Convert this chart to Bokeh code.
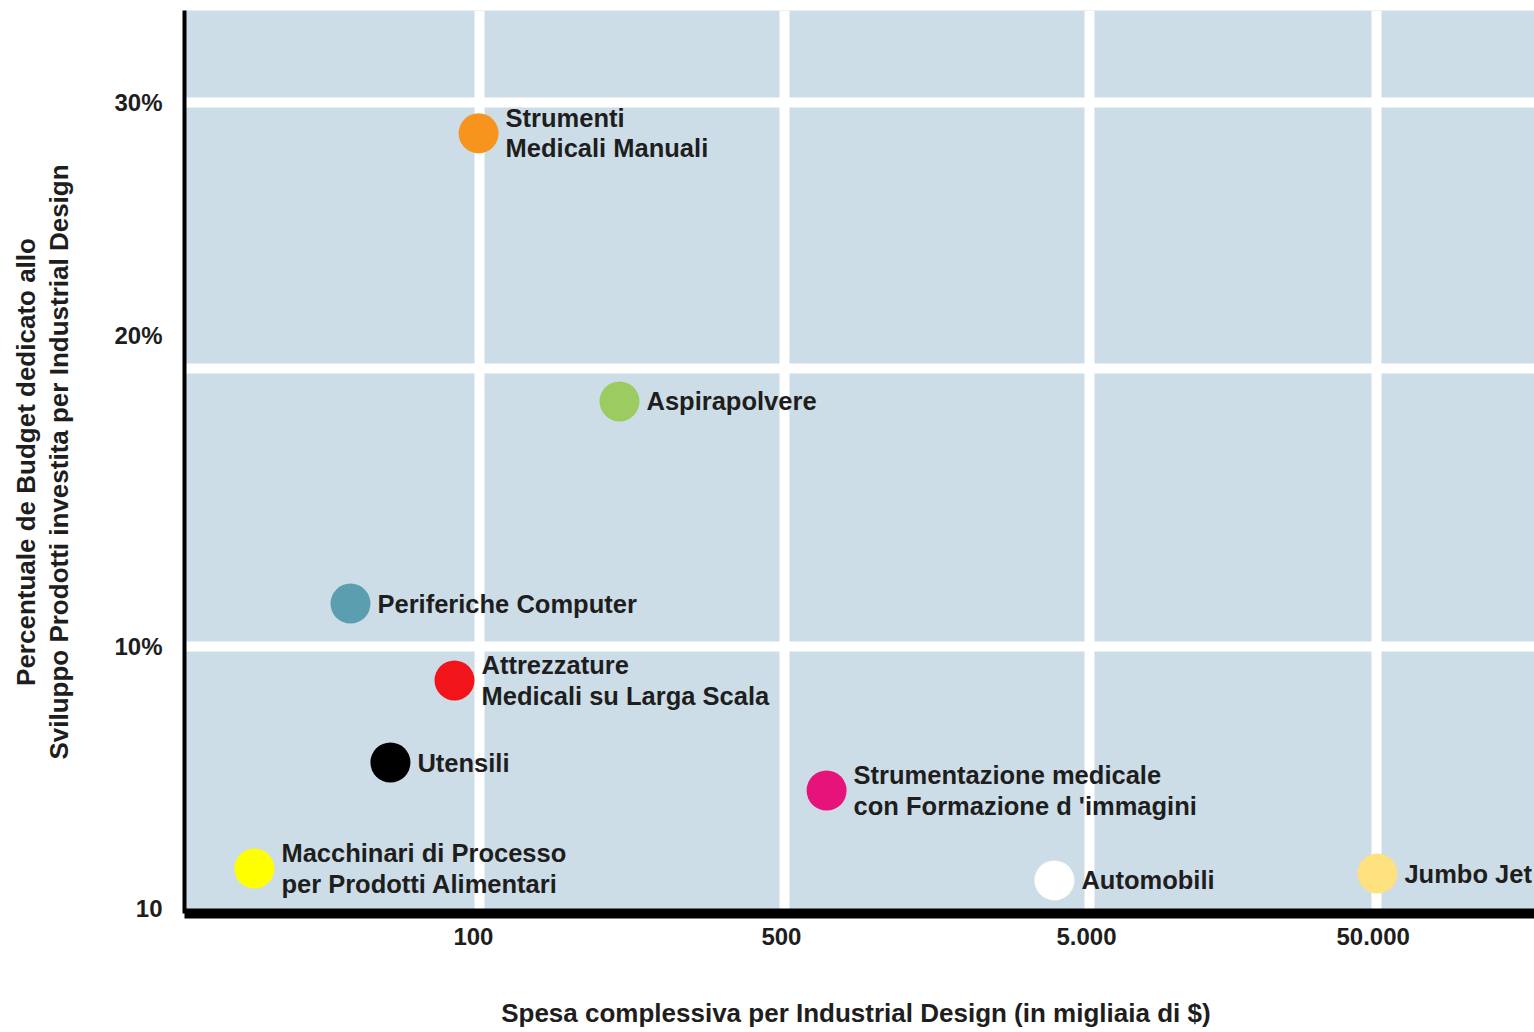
from bokeh.plotting import figure
from bokeh.models import FixedTicker, Range1d, ColumnDataSource
from bokeh.embed import file_html
from bokeh.resources import INLINE
from bokeh.core.properties import value

# ---- data (positions on the chart's own ordinal scales) ----
labels = [
    "Strumenti\nMedicali Manuali",
    "Aspirapolvere",
    "Periferiche Computer",
    "Attrezzature\nMedicali su Larga Scala",
    "Utensili",
    "Strumentazione medicale\ncon Formazione d 'immagini",
    "Macchinari di Processo\nper Prodotti Alimentari",
    "Automobili",
    "Jumbo Jet",
]
spesa_pos = [0.997, 1.459, 0.577, 0.918, 0.708, 2.138, 0.262, 2.885, 3.944]
budget_pct = [26.5, 17.88, 11.38, 8.91, 6.27, 5.37, 2.86, 2.48, 2.70]
colors = ["#F7941E", "#9CCB62", "#5B9EAF", "#F2141B", "#000000",
          "#E5137A", "#FFFF00", "#FFFFFF", "#FEE17F"]

x_tick_pos = [0.98, 1.99, 2.99, 3.93]
x_tick_labels = ["100", "500", "5.000", "50.000"]
y_tick_pos = [1.58, 10.0, 20.0, 27.5]
y_tick_labels = ["10", "10%", "20%", "30%"]
x_grid_pos = [1.0, 2.0, 3.0, 3.94]
y_grid_pos = [10.0, 18.94, 27.5]

FONT = "Liberation Sans"
TXT = "#1e1e1e"

src = ColumnDataSource(dict(x=spesa_pos, y=budget_pct, label=labels, color=colors))

p = figure(width=1534, height=1032,
           x_range=Range1d(0.0328, 4.459), y_range=Range1d(1.415, 30.45),
           output_backend="svg", toolbar_location=None,
           min_border_left=184, min_border_right=0,
           min_border_top=10, min_border_bottom=119)

p.background_fill_color = "#CDDDE7"
p.border_fill_color = "white"
p.outline_line_color = None

p.xgrid.ticker = FixedTicker(ticks=x_grid_pos)
p.ygrid.ticker = FixedTicker(ticks=y_grid_pos)
for g in (p.xgrid, p.ygrid):
    g.grid_line_color = "white"
    g.grid_line_width = 10
    g.grid_line_alpha = 1.0

p.xaxis.ticker = FixedTicker(ticks=x_tick_pos)
p.xaxis.major_label_overrides = {t: l for t, l in zip(x_tick_pos, x_tick_labels)}
p.yaxis.ticker = FixedTicker(ticks=y_tick_pos)
p.yaxis.major_label_overrides = {t: l for t, l in zip(y_tick_pos, y_tick_labels)}

for ax in (p.xaxis, p.yaxis):
    ax.major_tick_line_color = None
    ax.minor_tick_line_color = None
    ax.axis_line_color = "black"
    ax.major_label_text_font = FONT
    ax.major_label_text_font_style = "bold"
    ax.major_label_text_font_size = "24px"
    ax.major_label_text_color = TXT
    ax.axis_label_text_font = FONT
    ax.axis_label_text_font_style = "bold"
    ax.axis_label_text_color = TXT

p.xaxis.axis_line_width = 10
p.yaxis.axis_line_width = 4
p.xaxis.major_label_standoff = 8
p.yaxis.major_label_standoff = 16

p.xaxis.axis_label = "Spesa  complessiva per Industrial Design (in migliaia di $)"
p.xaxis.axis_label_text_font_size = "26px"
p.xaxis.axis_label_standoff = 50

p.yaxis.axis_label = "Percentuale de Budget dedicato allo\nSviluppo Prodotti investita per Industrial Design"
p.yaxis.axis_label_text_font_size = "26px"
p.yaxis.axis_label_text_line_height = 1.1
p.yaxis.axis_label_standoff = 37

p.scatter(x="x", y="y", size=40, fill_color="color", line_color=None, source=src)
p.text(x="x", y="y", text="label", x_offset=27, text_align="left", text_baseline="middle",
       text_font=value(FONT), text_font_style="bold", text_font_size="25.5px",
       text_color=TXT, text_line_height=1.08, source=src)

open("out.html", "w").write(file_html(p, INLINE))
